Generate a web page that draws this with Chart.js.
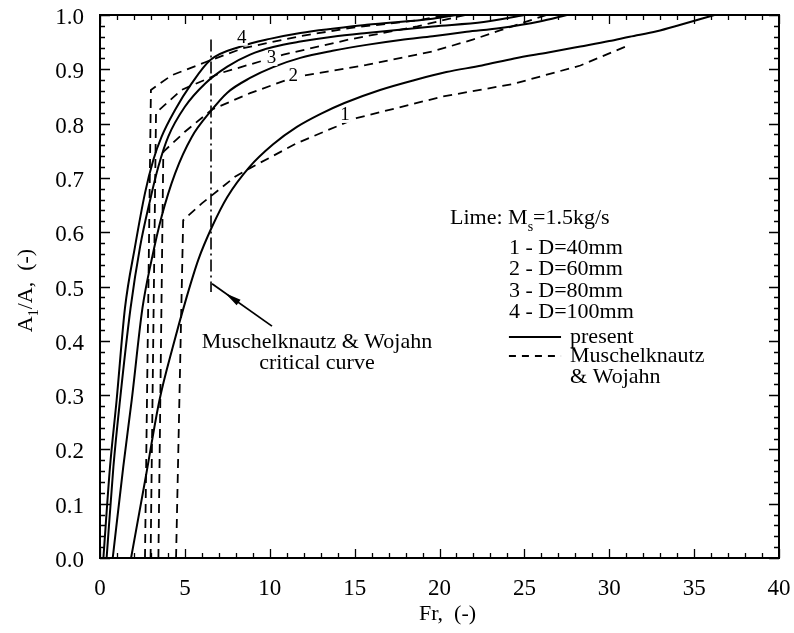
<!DOCTYPE html>
<html>
<head>
<meta charset="utf-8">
<script src="https://cdn.jsdelivr.net/npm/chart.js@4.4.0/dist/chart.umd.min.js"></script>
<style>
  html, body { margin: 0; padding: 0; background: #fff; }
  #wrap { width: 794px; height: 633px; }
</style>
</head>
<body>
<div id="wrap"><canvas id="c" width="794" height="633"></canvas></div>
<script>
// Fr (x) and A1/A (y) pairs for each pipe diameter, Lime, Ms = 1.5 kg/s
const present40 = [[1.83,0],[2.7,0.15],[3.5,0.29],[4.3,0.39],[5.1,0.48],[5.8,0.55],[6.6,0.61],[7.5,0.665],[8.8,0.72],[10.2,0.762],[11.6,0.794],[13.0,0.818],[14.4,0.838],[16.5,0.862],[18.5,0.88],[20.4,0.895],[22.5,0.907],[24.4,0.92],[26.4,0.931],[28.3,0.942],[30.0,0.952],[31.2,0.96],[32.8,0.97],[34.2,0.982],[36.2,1.0]];
const present60 = [[0.75,0],[1.37,0.168],[1.87,0.291],[2.5,0.46],[3.04,0.549],[3.63,0.629],[4.42,0.708],[5.4,0.775],[6.5,0.822],[7.5,0.857],[8.84,0.884],[10.2,0.904],[11.8,0.921],[13.7,0.934],[15.7,0.945],[17.7,0.954],[19.6,0.961],[21.6,0.969],[23.6,0.976],[25.9,0.988],[27.5,1.0]];
const present80 = [[0.39,0],[0.79,0.168],[1.18,0.291],[1.8,0.46],[2.36,0.573],[2.95,0.659],[3.44,0.721],[4.02,0.776],[5.0,0.831],[6.2,0.874],[7.5,0.905],[8.84,0.927],[10.2,0.941],[11.8,0.951],[13.7,0.96],[15.7,0.967],[19.6,0.979],[22.6,0.987],[25.0,1.0]];
const present100 = [[0.2,0],[0.59,0.168],[0.98,0.291],[1.47,0.46],[2.06,0.573],[2.65,0.672],[3.14,0.733],[3.63,0.776],[4.42,0.825],[5.4,0.874],[6.5,0.917],[8.3,0.942],[10.0,0.956],[11.8,0.967],[15.7,0.982],[19.6,0.993],[21.0,1.0]];

const mw40 = [[4.48,0],[4.9,0.622],[6.0,0.653],[7.95,0.702],[8.84,0.718],[11.6,0.764],[15.1,0.81],[20.2,0.85],[24.35,0.873],[28.3,0.907],[31.2,0.945]];
const mw60 = [[3.44,0],[3.73,0.748],[5.0,0.785],[6.6,0.826],[8.84,0.856],[11.4,0.885],[15.7,0.908],[19.6,0.933],[22.0,0.955],[23.6,0.972],[26.3,1.0]];
const mw80 = [[2.98,0],[3.3,0.82],[4.8,0.862],[7.1,0.893],[10.8,0.927],[14.7,0.955],[18.7,0.979],[21.5,1.0]];
const mw100 = [[2.65,0],[3.0,0.862],[4.22,0.889],[6.2,0.913],[8.44,0.939],[11.8,0.961],[14.7,0.976],[18.7,0.99],[20.5,1.0]];

// Muschelknautz & Wojahn critical curve
const criticalCurve = [[6.54,0.955],[6.54,0.49]];

// axis tick values
const xTickValues = [0,5,10,15,20,25,30,35,40];
const yTickValues = [0,0.1,0.2,0.3,0.4,0.5,0.6,0.7,0.8,0.9,1.0];

// curve numbers written next to the lines
const curveLabels = ['1','2','3','4'];
const curveLabelAt = [[14.43,0.816],[11.39,0.888],[10.1,0.921],[8.35,0.958]];

const SERIF = "'Liberation Serif', 'Times New Roman', serif";
const toXY = arr => arr.map(p => ({x: p[0], y: p[1]}));

function solid(data) {
  return { data: toXY(data), borderColor: '#000', borderWidth: 2, pointRadius: 0,
           showLine: true, cubicInterpolationMode: 'monotone', fill: false };
}
function dashed(data) {
  return { data: toXY(data), borderColor: '#000', borderWidth: 1.8, pointRadius: 0,
           showLine: true, tension: 0, borderDash: [9, 6], fill: false };
}

// frame, inward ticks, annotations, legend and axis titles
const decorations = {
  id: 'decorations',
  afterDatasetsDraw(chart) {
    const ctx = chart.ctx;
    const xs = chart.scales.x, ys = chart.scales.y;
    const area = chart.chartArea;
    const px = v => xs.getPixelForValue(v);
    const py = v => ys.getPixelForValue(v);
    ctx.save();
    ctx.strokeStyle = '#000';
    ctx.fillStyle = '#000';

    // plot frame
    ctx.lineWidth = 2;
    ctx.strokeRect(area.left, area.top, area.right - area.left, area.bottom - area.top);

    // tick marks pointing into the plot on all four sides
    ctx.lineWidth = 1.3;
    ctx.beginPath();
    for (let i = 0; i <= 40; i++) {
      const len = i % 5 === 0 ? 9 : 5;
      const x = Math.round(px(i)) + 0.5;
      ctx.moveTo(x, area.bottom); ctx.lineTo(x, area.bottom - len);
      ctx.moveTo(x, area.top); ctx.lineTo(x, area.top + len);
    }
    for (let j = 0; j <= 50; j++) {
      const len = j % 5 === 0 ? 10 : 5;
      const y = Math.round(py(j * 0.02)) + 0.5;
      ctx.moveTo(area.left, y); ctx.lineTo(area.left + len, y);
      ctx.moveTo(area.right, y); ctx.lineTo(area.right - len, y);
    }
    ctx.stroke();

    // curve numbers
    ctx.font = '19px ' + SERIF;
    ctx.textAlign = 'center';
    ctx.textBaseline = 'middle';
    curveLabels.forEach((t, i) => {
      const x = px(curveLabelAt[i][0]), y = py(curveLabelAt[i][1]);
      ctx.fillStyle = '#fff';
      ctx.fillRect(x - 6, y - 8, 12, 16);
      ctx.fillStyle = '#000';
      ctx.fillText(t, x, y);
    });

    // critical curve arrow
    const ax0 = px(6.6), ay0 = py(0.505), ax1 = px(10.13), ay1 = py(0.427);
    ctx.lineWidth = 1.8;
    ctx.beginPath(); ctx.moveTo(ax0, ay0); ctx.lineTo(ax1, ay1); ctx.stroke();
    const ang = Math.atan2(ay0 - ay1, ax0 - ax1);
    const hx = ax0 + (ax1 - ax0) * 0.33, hy = ay0 + (ay1 - ay0) * 0.33;
    ctx.beginPath();
    ctx.moveTo(hx + Math.cos(ang) * 8, hy + Math.sin(ang) * 8);
    ctx.lineTo(hx + Math.cos(ang + 2.75) * 9, hy + Math.sin(ang + 2.75) * 9);
    ctx.lineTo(hx + Math.cos(ang - 2.75) * 9, hy + Math.sin(ang - 2.75) * 9);
    ctx.closePath(); ctx.fill();

    const F = '22px ' + SERIF, FS = '14px ' + SERIF;
    ctx.font = F;
    ctx.textAlign = 'center';
    ctx.fillText('Muschelknautz & Wojahn', px(12.78), py(0.398));
    ctx.fillText('critical curve', px(12.78), py(0.359));

    // legend block
    ctx.textAlign = 'left';
    const lx = px(20.62), ly = py(0.626);
    ctx.fillText('Lime: M', lx, ly);
    const w = ctx.measureText('Lime: M').width;
    ctx.font = FS;
    ctx.fillText('s', lx + w, ly + 9);
    const sw = ctx.measureText('s').width;
    ctx.font = F;
    ctx.fillText('=1.5kg/s', lx + w + sw, ly);

    const ix = px(24.09);
    const entries = ['1 - D=40mm', '2 - D=60mm', '3 - D=80mm', '4 - D=100mm'];
    const rows = [0.571, 0.532, 0.492, 0.453];
    entries.forEach((t, i) => ctx.fillText(t, ix, py(rows[i])));

    const sx0 = px(24.09), sx1 = px(27.16), tx = px(27.69);
    ctx.lineWidth = 2;
    ctx.beginPath(); ctx.moveTo(sx0, py(0.407)); ctx.lineTo(sx1, py(0.407)); ctx.stroke();
    ctx.setLineDash([7, 6]);
    ctx.beginPath(); ctx.moveTo(sx0, py(0.372)); ctx.lineTo(sx1, py(0.372)); ctx.stroke();
    ctx.setLineDash([]);
    ctx.fillText('present', tx, py(0.407));
    ctx.fillText('Muschelknautz', tx, py(0.372));
    ctx.fillText('& Wojahn', tx, py(0.333));

    // x axis title
    ctx.textAlign = 'center';
    ctx.fillText('Fr,  (-)', (area.left + area.right) / 2 + 8, 614);

    // y axis title with subscript
    ctx.translate(26, (area.top + area.bottom) / 2 + 4);
    ctx.rotate(-Math.PI / 2);
    const pA = 'A', pB = '/A,  (-)';
    ctx.font = F; const wA = ctx.measureText(pA).width;
    const wB = ctx.measureText(pB).width;
    ctx.font = FS; const w1 = ctx.measureText('1').width;
    let cx = -(wA + w1 + wB) / 2;
    ctx.textAlign = 'left';
    ctx.font = F; ctx.fillText(pA, cx, 0); cx += wA;
    ctx.font = FS; ctx.fillText('1', cx, 8); cx += w1;
    ctx.font = F; ctx.fillText(pB, cx, 0);
    ctx.restore();
  }
};

const setTicks = values => scale => { scale.ticks = values.map(v => ({ value: v })); };

new Chart(document.getElementById('c'), {
  type: 'scatter',
  data: {
    datasets: [
      solid(present40), solid(present60), solid(present80), solid(present100),
      dashed(mw40), dashed(mw60), dashed(mw80), dashed(mw100),
      { data: toXY(criticalCurve), borderColor: '#000', borderWidth: 1.6, pointRadius: 0,
        showLine: true, borderDash: [12, 4, 2, 4], fill: false }
    ]
  },
  options: {
    responsive: false,
    animation: false,
    devicePixelRatio: 1,
    layout: { padding: { top: 15, right: 15, left: 0, bottom: 0 } },
    plugins: { legend: { display: false }, tooltip: { enabled: false } },
    scales: {
      x: {
        type: 'linear', position: 'bottom', min: 0, max: 40,
        afterBuildTicks: setTicks(xTickValues),
        afterFit: s => { s.height = 75; s.paddingLeft = 0; s.paddingRight = 0; },
        grid: { display: false, drawTicks: false },
        border: { display: false },
        ticks: { color: '#000', padding: 17, maxRotation: 0, font: { family: SERIF, size: 23 } }
      },
      y: {
        type: 'linear', position: 'left', min: 0, max: 1,
        afterBuildTicks: setTicks(yTickValues),
        afterFit: s => { s.width = 100; s.paddingTop = 0; s.paddingBottom = 0; },
        grid: { display: false, drawTicks: false },
        border: { display: false },
        ticks: { color: '#000', padding: 16, labelOffset: 3, font: { family: SERIF, size: 23 },
                 callback: v => Number(v).toFixed(1) }
      }
    }
  },
  plugins: [decorations]
});
</script>
</body>
</html>
